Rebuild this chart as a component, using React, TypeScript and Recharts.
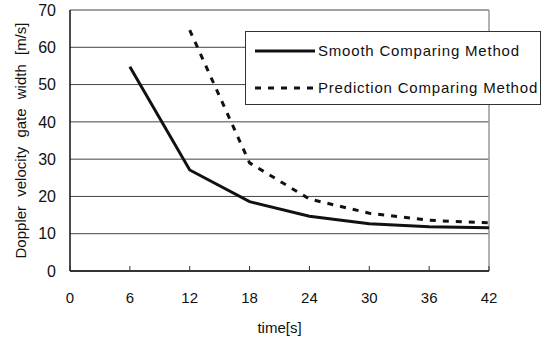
import { LineChart, Line, XAxis, YAxis, CartesianGrid, ReferenceLine, Label } from 'recharts';

const times = [6, 12, 18, 24, 30, 36, 42];
const smoothMethod = [54.8, 27.1, 18.6, 14.7, 12.7, 11.9, 11.6];
const predictionMethod = [null, 64.6, 29.0, 19.3, 15.5, 13.6, 12.9];
const xTicks = [0, 6, 12, 18, 24, 30, 36, 42];
const yTicks = [0, 10, 20, 30, 40, 50, 60, 70];

const chartData = times.map((t, i) => ({
    time: t,
    smooth: smoothMethod[i],
    prediction: predictionMethod[i],
}));

const FONT = '"Liberation Sans", Arial, sans-serif';

function XTick({ x, y, payload }: any) {
    return (
        <g>
            <line x1={x} y1={y} x2={x} y2={y - 5} stroke="#333" strokeWidth={1} />
            <text x={x} y={y + 32} textAnchor="middle" fontSize={15} fill="#111" fontFamily={FONT}>
                {payload.value}
            </text>
        </g>
    );
}

function LegendBox() {
    const items = [
        { label: 'Smooth Comparing Method', dash: undefined },
        { label: 'Prediction Comparing Method', dash: '6 7' },
    ];
    return (
        <div
            style={{
                position: 'absolute',
                left: 245,
                top: 31,
                width: 296,
                height: 74,
                border: '1px solid #333',
                background: '#fff',
                boxSizing: 'border-box',
            }}
        >
            <svg width={294} height={72} style={{ display: 'block' }}>
                {items.map((it, i) => {
                    const cy = 19 + i * 37;
                    return (
                        <g key={it.label}>
                            <line x1={9} y1={cy} x2={69} y2={cy} stroke="#111" strokeWidth={3} strokeDasharray={it.dash} />
                            <text x={72} y={cy + 5} fontSize={15} fill="#111" fontFamily={FONT} letterSpacing={0.8}>
                                {it.label}
                            </text>
                        </g>
                    );
                })}
            </svg>
        </div>
    );
}

export default function App() {
    return (
        <div style={{ position: 'fixed', left: 0, top: 0, width: 550, height: 341, background: '#fff' }}>
            <LineChart width={550} height={341} data={chartData} margin={{ top: 10, right: 61, left: 0, bottom: 0 }}>
                <CartesianGrid vertical={false} stroke="#444" />
                <XAxis
                    dataKey="time"
                    type="number"
                    domain={[0, 42]}
                    ticks={xTicks}
                    height={70}
                    tickSize={0}
                    tickMargin={0}
                    tickLine={false}
                    axisLine={{ stroke: '#111', strokeWidth: 1.5 }}
                    tick={<XTick />}
                >
                    <Label value="time[s]" position="insideBottom" offset={8} fontSize={15} fill="#111" fontFamily={FONT} />
                </XAxis>
                <YAxis
                    domain={[0, 70]}
                    ticks={yTicks}
                    width={70}
                    tickSize={0}
                    tickMargin={14}
                    tickLine={false}
                    axisLine={{ stroke: '#111', strokeWidth: 1.5 }}
                    tick={{ fontSize: 16, fill: '#111', fontFamily: FONT }}
                >
                    <Label
                        value="Doppler velocity gate width [m/s]"
                        angle={-90}
                        position="insideLeft"
                        offset={21}
                        style={{ textAnchor: 'middle', wordSpacing: 5 }}
                        fontSize={15}
                        fill="#111"
                        fontFamily={FONT}
                    />
                </YAxis>
                <ReferenceLine x={42} stroke="#999" strokeWidth={1.5} />
                <Line
                    type="linear"
                    dataKey="smooth"
                    stroke="#111"
                    strokeWidth={3}
                    dot={false}
                    isAnimationActive={false}
                />
                <Line
                    type="linear"
                    dataKey="prediction"
                    stroke="#111"
                    strokeWidth={3}
                    strokeDasharray="6 7"
                    dot={false}
                    isAnimationActive={false}
                />
            </LineChart>
            <LegendBox />
        </div>
    );
}
